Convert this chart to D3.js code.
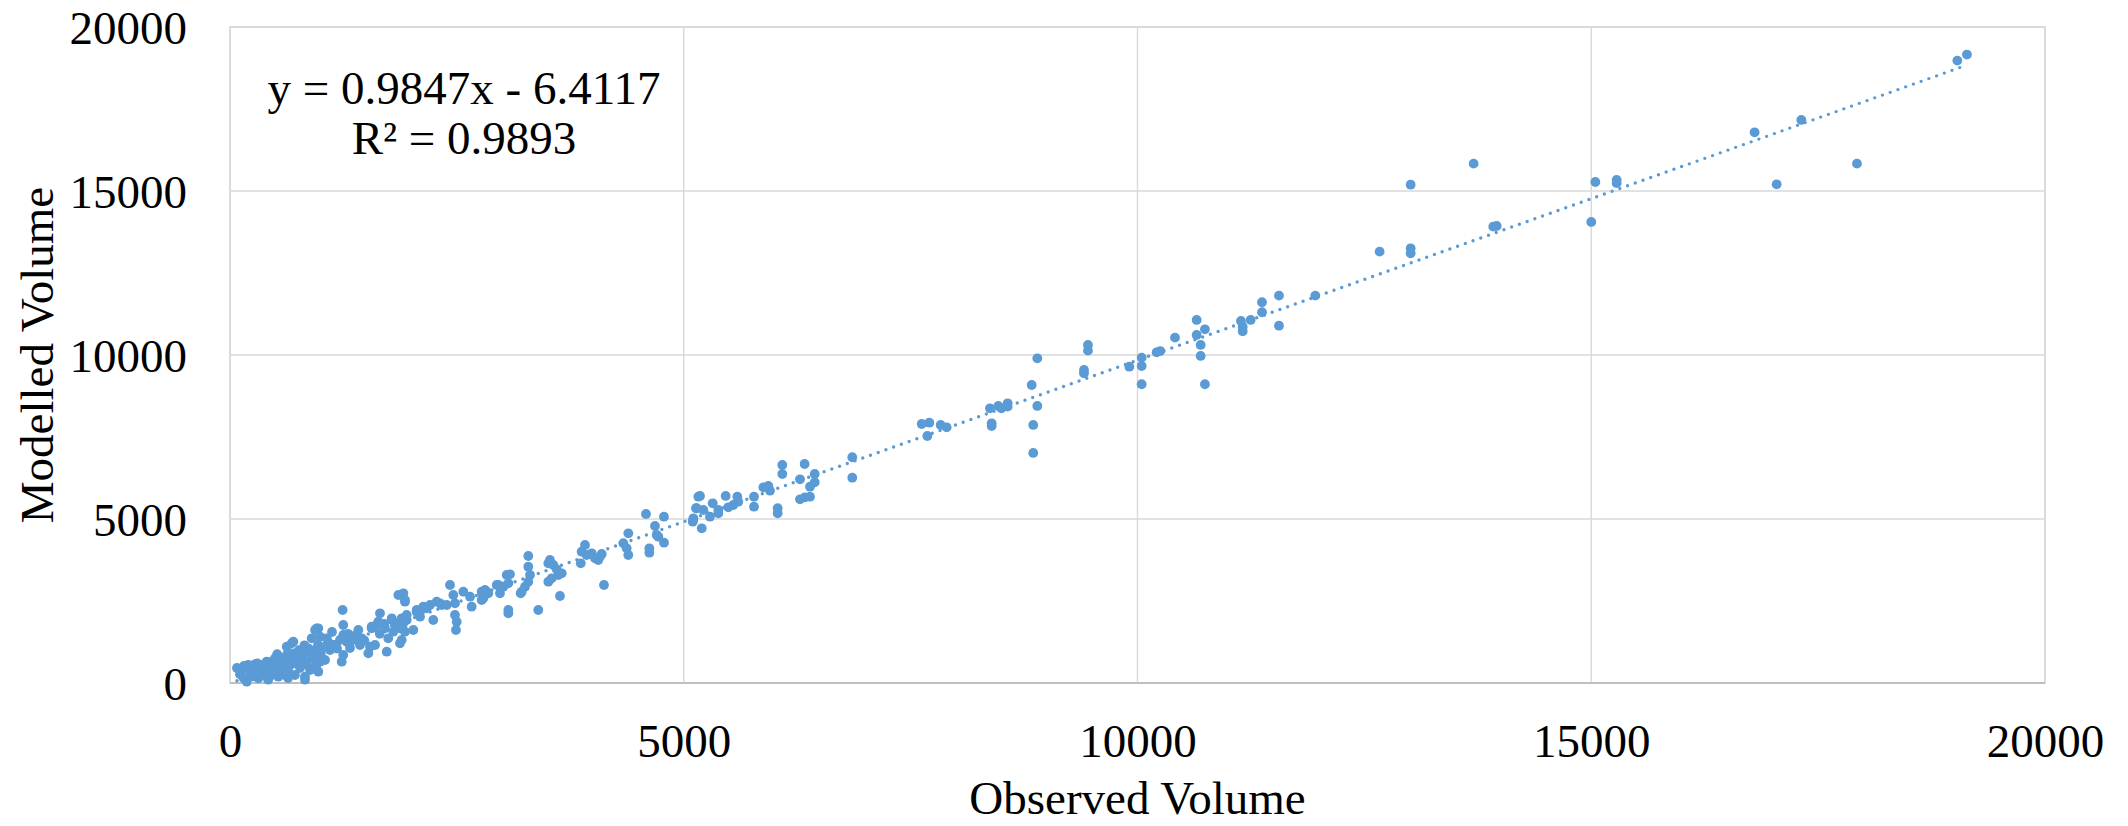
<!DOCTYPE html>
<html>
<head>
<meta charset="utf-8">
<script src="https://cdn.jsdelivr.net/npm/d3@7"></script>
<style>
  html, body { margin: 0; padding: 0; background: #ffffff; }
  svg { display: block; }
  text { font-family: "Liberation Serif", "Times New Roman", serif; fill: #000; }
</style>
</head>
<body>
<svg id="chart" width="2128" height="826"></svg>
<script>
// ---- data (Observed Volume, Modelled Volume) ----
const points = [
  [110,265],[184,40],[202,549],[275,570],[349,549],[404,650],[459,650],[496,753],[551,753],[625,854],
  [625,1107],[680,1210],[698,1259],[606,244],[716,244],[826,192],[790,854],[863,1058],[900,1363],[937,1616],
  [973,1668],[312,143],[422,143],[532,192],[220,335],[353,335],[441,396],[551,457],[661,549],[749,701],
  [826,640],[904,823],[771,457],[77,457],[154,518],[882,396],[970,1159],[937,1006],[150,150],[260,420],
  [380,470],[480,300],[600,620],[700,900],[760,1000],[850,560],[300,600],[520,880],[640,380],[820,1150],
  [950,520],[120,380],[420,100],[640,150],[826,100],
  [300,300],[400,400],[500,500],[580,350],[700,600],[780,780],[880,950],[1000,900],[1100,1200],[1180,1050],
  [1300,1500],[1380,1450],[1480,1300],[1650,1500],[1700,1800],[250,200],[350,250],[450,230],[560,560],[680,700],
  [1855,2683],[1928,2531],[1241,2226],[955,1668],[992,1412],[1066,1363],[1047,1107],[955,954],[918,753],[992,649],
  [973,345],[1248,1768],[1248,1464],[1212,1311],[1286,1259],[1248,854],[1231,649],[1414,1616],[1451,1363],[1359,1311],
  [1561,1717],[1653,2125],[1634,1869],[1543,1107],[1524,906],[1598,1159],[1727,954],[1744,1363],[1782,1973],[1837,1820],
  [1892,1973],[1873,1668],[1928,1564],[1873,1210],[1799,1564],[1708,1668],[1102,1006],[1157,1159],[1322,1067],[1432,1159],
  [1047,701],[1124,1555],[1616,1769],[1561,1668],[1782,1921],[2094,2174],[2314,2430],
  [2424,2988],[2461,2683],[2479,2430],[2479,2073],[2498,1869],[2490,1616],[2571,2784],[2645,2631],[2663,2326],[2773,2784],
  [2791,2582],[2829,2784],[2939,2988],[2975,2735],[3049,3293],[3067,2226],[1910,2735],[1928,2479],[1947,2073],[1910,1820],
  [1892,1311],[2020,1616],[2057,2226],[2130,2326],[2204,2378],[2278,2479],[2333,2378],[2388,2378],[2094,2022],[2240,1921],
  [2167,2277],[2057,2174],[1947,1921],
  [3085,3314],[3067,3040],[3012,2937],[2957,2988],[3067,2125],[2810,2836],[2791,2683],[2846,2734],[2773,2531],[3287,3872],
  [3287,3546],[3306,3293],[3287,3089],[3251,2937],[3203,2734],[3214,2784],[3397,2226],[3526,3750],[3508,3650],[3563,3598],
  [3600,3467],[3618,3293],[3655,3344],[3545,3192],[3508,3089],[3636,2653],[3912,4207],[3875,4003],[3930,3903],[3986,3954],
  [4022,3801],[4058,3750],[4077,3852],[3865,3650],[4121,2988],[4389,4564],[4334,4260],[4371,4107],[4389,3903],[4096,3933],
  [4584,5153],[4782,5071],[4683,4787],[4702,4513],[4720,4461],[4782,4278],[4621,4107],[4621,3973],[5161,5680],[5135,5327],
  [5105,4970],
  [6857,6882],[6857,6260],[6086,6647],[6086,6372],[6332,6677],[6443,6372],[6281,6211],[6443,6119],[6391,5985],[6281,5601],
  [6336,5662],[6391,5680],[6035,5327],[6035,5175],[5877,5967],[5932,6007],[5950,5863],[5774,5680],[5774,5375],[5462,5702],
  [5590,5680],[5601,5528],[5546,5427],[5491,5357],[5319,5479],[5381,5275],[5381,5175],[5179,5702],[5142,5327],[5216,5275],
  [5106,5022],[5099,4918],[5198,4717],[5289,5071],
  [10652,11068],[10743,10784],[10652,10611],[10696,10306],[10696,9971],[10743,9108],[10413,10529],[10211,10083],[10250,10120],[10046,9919],
  [10046,9665],[10046,9108],[9910,9644],[9454,10306],[9454,10133],[9410,9543],[9410,9442],[8896,9900],[8834,9086],[8896,8446],
  [8851,7867],[8851,7013],[8569,8528],[8569,8425],[8466,8446],[8500,8375],[8374,8375],[8393,7918],[8393,7836],[7622,7897],
  [7706,7937],[7684,7531],[7831,7867],[7897,7796],
  [13704,15834],[13010,15193],[15045,15275],[15280,15336],[15280,15240],[15000,14056],[13920,13913],[13958,13935],[12668,13151],[13010,13253],
  [13010,13100],[11959,11810],[11559,11810],[11559,10894],[11372,11608],[11372,11303],[11247,11068],[11140,11037],[11159,10864],[11159,10723],
  [19140,19160],[19034,18975],[16800,16790],[17315,17166],[17043,15205],[17928,15834]
];
const xTicks = [0, 5000, 10000, 15000, 20000];
const yTicks = [0, 5000, 10000, 15000, 20000];
const trendSlope = 0.9847;
const trendIntercept = -6.4117;
const equationLines = ["y = 0.9847x - 6.4117", "R\u00B2 = 0.9893"];
const xTitle = "Observed Volume";
const yTitle = "Modelled Volume";

// ---- layout ----
const W = 2128, H = 826;
const pLeft = 230, pRight = 2045, pTop = 27, pBottom = 683;
const blue = "#5B9BD5";
const fontSize = 47;

const svg = d3.select("#chart");
svg.append("rect").attr("width", W).attr("height", H).attr("fill", "#fff");

const x = d3.scaleLinear().domain([0, 20000]).range([pLeft, pRight]);
const y = d3.scaleLinear().domain([0, 20000]).range([pBottom, pTop]);

// gridlines
const grid = svg.append("g");
grid.selectAll(".vg").data(xTicks).enter().append("line")
  .attr("x1", d => x(d)).attr("x2", d => x(d))
  .attr("y1", pTop).attr("y2", pBottom)
  .attr("stroke", "#D9D9D9").attr("stroke-width", 1.4);
grid.selectAll(".hg").data(yTicks).enter().append("line")
  .attr("x1", pLeft).attr("x2", pRight)
  .attr("y1", d => y(d)).attr("y2", d => y(d))
  .attr("stroke", "#D9D9D9").attr("stroke-width", 1.4);
// plot border
svg.append("rect").attr("x", pLeft).attr("y", pTop)
  .attr("width", pRight - pLeft).attr("height", pBottom - pTop)
  .attr("fill", "none").attr("stroke", "#D9D9D9").attr("stroke-width", 1.6);
// x axis line
svg.append("line").attr("x1", pLeft).attr("x2", pRight)
  .attr("y1", pBottom).attr("y2", pBottom)
  .attr("stroke", "#BFBFBF").attr("stroke-width", 1.8);

// axes (labels via d3 axis, no tick marks)
const xAxis = d3.axisBottom(x).tickValues(xTicks).tickFormat(d3.format("d")).tickSize(0).tickPadding(0);
const gx = svg.append("g").attr("transform", "translate(0, 741)").call(xAxis);
gx.select(".domain").remove();
gx.selectAll("text").attr("font-size", fontSize).attr("font-family", "Liberation Serif")
  .attr("dy", "0.35em").attr("y", 0).attr("fill", "#000");

const yAxis = d3.axisLeft(y).tickValues(yTicks).tickFormat(d3.format("d")).tickSize(0).tickPadding(0);
const gy = svg.append("g").attr("transform", "translate(187, 0)").call(yAxis);
gy.select(".domain").remove();
gy.selectAll("text").attr("font-size", fontSize).attr("font-family", "Liberation Serif")
  .attr("dy", "0.35em").attr("x", 0).attr("fill", "#000");

// points
svg.append("g").selectAll("circle").data(points).enter().append("circle")
  .attr("cx", d => x(d[0])).attr("cy", d => y(d[1]))
  .attr("r", 4.9).attr("fill", blue);

// trendline
const xmin = d3.min(points, d => d[0]);
const xmax = d3.max(points, d => d[0]);
const line = d3.line().x(d => x(d)).y(d => y(trendSlope * d + trendIntercept));
svg.append("path").datum([xmin, xmax]).attr("d", line)
  .attr("fill", "none").attr("stroke", blue).attr("stroke-width", 3.4)
  .attr("stroke-linecap", "round").attr("stroke-dasharray", "0 8.2");

// equation
const eq = svg.append("text").attr("text-anchor", "middle").attr("font-size", fontSize);
equationLines.forEach((t, i) => {
  eq.append("tspan").attr("x", 464).attr("y", 104 + i * 50).text(t);
});

// axis titles
svg.append("text").attr("x", (pLeft + pRight) / 2).attr("y", 814)
  .attr("text-anchor", "middle").attr("font-size", fontSize).text(xTitle);
svg.append("text").attr("transform", `translate(53, ${(pTop + pBottom) / 2}) rotate(-90)`)
  .attr("text-anchor", "middle").attr("font-size", fontSize).text(yTitle);
</script>
</body>
</html>
